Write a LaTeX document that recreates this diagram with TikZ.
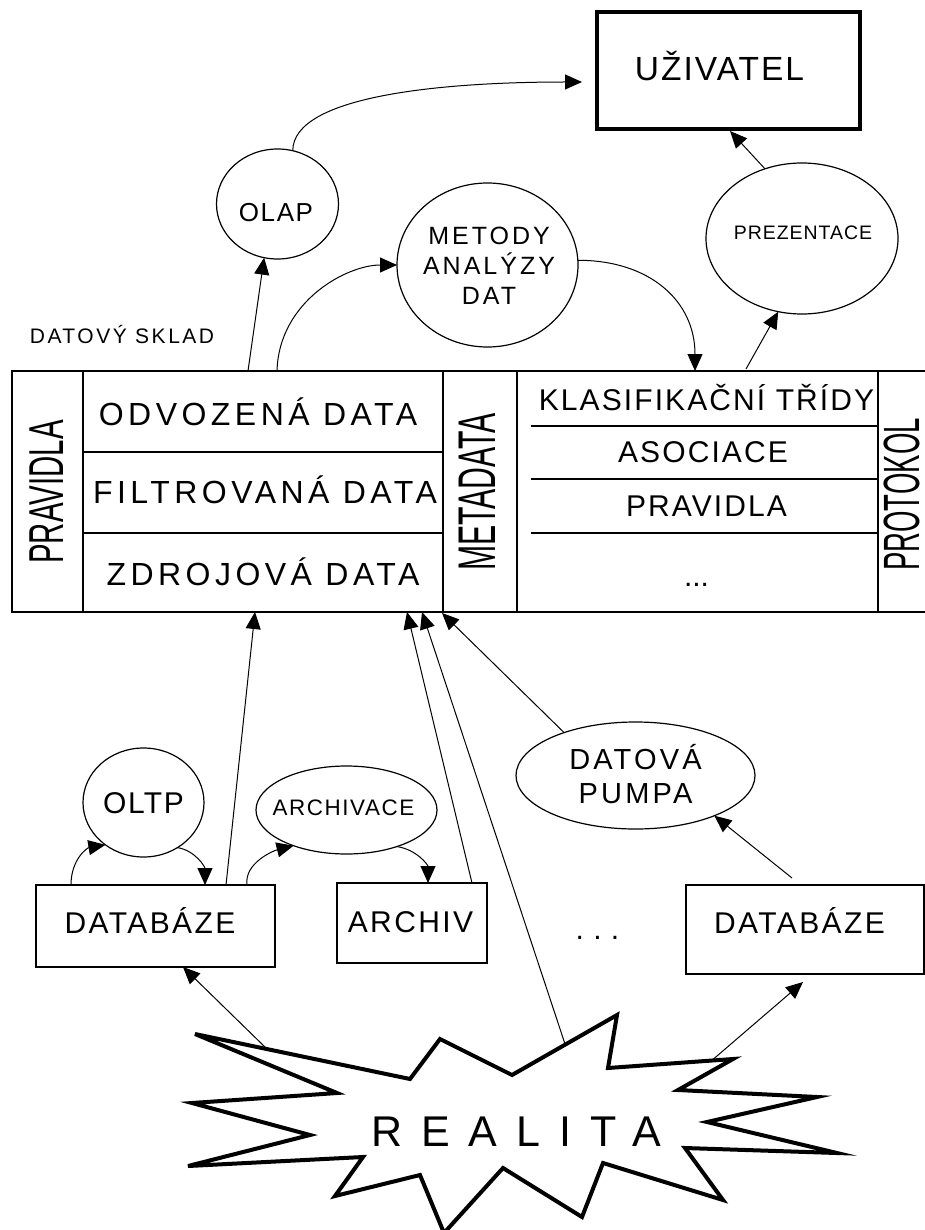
\documentclass[tikz,border=0pt]{standalone}
\usepackage{fontspec}
\setmainfont{Liberation Sans}
\usetikzlibrary{shapes.geometric,arrows.meta}

\newcommand\fsz[2]{\fontsize{#1}{#2}\selectfont}
\newcommand\trk[1]{\addfontfeature{LetterSpace=#1}}

\begin{document}
\begin{tikzpicture}[x=1pt,y=-1pt,
  every node/.style={inner sep=0pt, outer sep=0pt},
  shapebox/.style={draw, rectangle, line width=1.3pt},
  oval/.style={draw, ellipse, line width=1.2pt},
  lbl/.style={anchor=base},
  tbl/.style={line width=1.2pt},
  arr/.style={line width=1pt, -{Triangle[length=17pt,width=15pt]}},
]
\useasboundingbox (0,0) rectangle (925,1230);

% ---------- user and top processes ----------
\node[draw, rectangle, line width=4pt, minimum width=263pt, minimum height=117pt] (uziv) at (728.5,70.5) {};
\node[lbl, font=\fsz{33.5}{40}\trk{6}] (uzivT) at (719.5,81) {UŽIVATEL};

\node[oval, minimum width=122pt, minimum height=110pt] (olap) at (277.5,204) {};
\node[lbl, font=\fsz{26}{30}\trk{6}] (olapT) at (276,222) {OLAP};

\node[oval, minimum width=181pt, minimum height=164pt] (metody) at (487.5,265) {};
\node[lbl, font=\fsz{25}{30}\trk{12}] (metT1) at (489,245) {METODY};
\node[lbl, font=\fsz{25}{30}\trk{12}] (metT2) at (489,275) {ANALÝZY};
\node[lbl, font=\fsz{25}{30}\trk{12}] (metT3) at (489,305) {DAT};

\node[oval, minimum width=192pt, minimum height=151pt] (prez) at (802,238.5) {};
\node[lbl, font=\fsz{19.5}{24}\trk{5}] (prezT) at (803,240) {PREZENTACE};

\node[lbl, font=\fsz{21}{25}\trk{12}] (skladT) at (122,343) {DATOVÝ SKLAD};

% ---------- data warehouse table ----------
\draw[tbl] (925,371) -- (12,371) -- (12,612) -- (925,612);
\draw[tbl] (83,371) -- (83,612);
\draw[tbl] (443,371) -- (443,612);
\draw[tbl] (517,371) -- (517,612);
\draw[tbl] (878,371) -- (878,612);
\draw[tbl] (83,452) -- (443,452);
\draw[tbl] (83,533) -- (443,533);
\draw[tbl] (531,426) -- (878,426);
\draw[tbl] (531,479) -- (878,479);
\draw[tbl] (531,533) -- (878,533);

\node[lbl, rotate=90, font=\fsz{49}{50}] (pravL) at (63,492) {\scalebox{0.6}[1]{PRAVIDLA}};
\node[lbl, rotate=90, font=\fsz{53}{54}] (metaT) at (495,492) {\scalebox{0.57}[1]{METADATA}};
\node[lbl, rotate=90, font=\fsz{51}{54}] (protT) at (919,494.5) {\scalebox{0.54}[1]{PROTOKOL}};

\node[lbl, font=\fsz{32}{38}\trk{14}] (odvT) at (258,425) {ODVOZENÁ DATA};
\node[lbl, font=\fsz{32}{38}\trk{14}] (filT) at (265,503) {FILTROVANÁ DATA};
\node[lbl, font=\fsz{32}{38}\trk{14}] (zdrT) at (263,585) {ZDROJOVÁ DATA};

\node[lbl, font=\fsz{30}{36}\trk{7}] (klasT) at (706.5,410) {KLASIFIKAČNÍ TŘÍDY};
\node[lbl, font=\fsz{30}{36}\trk{7}] (asocT) at (703,462) {ASOCIACE};
\node[lbl, font=\fsz{30}{36}\trk{7}] (prav2T) at (706.5,516) {PRAVIDLA};
\node[lbl, font=\fsz{30}{36}] (etcT) at (696.5,586) {...};

% ---------- sources ----------
\node[oval, minimum width=121pt, minimum height=109pt] (oltp) at (143.5,802.5) {};
\node[lbl, font=\fsz{30}{36}\trk{5}] (oltpT) at (143.5,813) {OLTP};

\node[oval, minimum width=181pt, minimum height=88pt] (archivace) at (346.5,810) {};
\node[lbl, font=\fsz{22.4}{27}\trk{7}] (archivaceT) at (343.5,815) {ARCHIVACE};

\node[oval, minimum width=239pt, minimum height=107pt] (pumpa) at (635.5,775.5) {};
\node[lbl, font=\fsz{29}{34}\trk{11}] (pumpaT1) at (635.5,769) {DATOVÁ};
\node[lbl, font=\fsz{29}{34}\trk{11}] (pumpaT2) at (635.5,803) {PUMPA};

\node[shapebox, minimum width=239pt, minimum height=82pt] (db1) at (155.5,926) {};
\node[lbl, font=\fsz{30}{36}\trk{8}] (db1T) at (150,933) {DATABÁZE};

\node[shapebox, minimum width=150pt, minimum height=80pt] (archiv) at (412,923) {};
\node[lbl, font=\fsz{30}{36}\trk{8}] (archivT) at (410.5,932) {ARCHIV};

\node[shapebox, minimum width=238pt, minimum height=89pt] (db2) at (805,929.5) {};
\node[lbl, font=\fsz{30}{36}\trk{8}] (db2T) at (799.5,933) {DATABÁZE};

\node[lbl, font=\fsz{30}{36}\trk{31}] (dotsT) at (597.5,939) {...};

% ---------- reality ----------
\draw[line width=4pt, line join=miter]
  (195,1034) -- (410,1079) -- (440,1039) -- (512,1075) -- (617,1015)
  -- (608,1068) -- (733,1059) -- (678,1090) -- (817,1097) -- (707,1122)
  -- (837,1153) -- (685,1148) -- (723,1200) -- (603,1163) -- (582,1217)
  -- (503,1168) -- (444,1233) -- (420,1175) -- (335,1196) -- (363,1157)
  -- (188,1166) -- (310,1135) -- (192,1103) -- (337,1093) -- cycle;
\node[lbl, font=\fsz{43}{50}\trk{44}] (realT) at (516,1146) {REALITA};

% ---------- connector end points ----------
\coordinate (whOlap) at (248,371);
\coordinate (whMet) at (277,371);
\coordinate (whMetIn) at (695,371);
\coordinate (whPrez) at (746,369);
\coordinate (uzivIn) at (582,82);
\coordinate (whIn1) at (255,612);
\coordinate (whIn2) at (407,612);
\coordinate (whIn3) at (422,612);
\coordinate (whIn4) at (442,613);
\coordinate (rlWh) at (565,1044);
\coordinate (rlDb2) at (710,1062);
\coordinate (rlDb1) at (267,1049);

% ---------- connectors ----------
\draw[arr] (whOlap) -- (olap.-104);
\draw[arr] (whMet) .. controls +(2,-70) and +(-50,0) .. (metody.west);
\draw[arr] (metody.3) .. controls +(72,0) and +(0,-70) .. (whMetIn);
\draw[arr] (whPrez) -- (prez.-108);
\draw[arr] (prez.118) -- ([xshift=1.5pt,yshift=-2pt]uziv.south);
\draw[arr] (olap.74) .. controls +(0,-55) and +(-140,0) .. (uzivIn);

\draw[arr] ([xshift=70.5pt]db1.north) -- (whIn1);
\draw[arr] ([xshift=60pt]archiv.north) -- (whIn2);
\draw[arr] (rlWh) -- (whIn3);
\draw[arr] (pumpa.149) -- (whIn4);
\draw[arr] ([xshift=-13pt,yshift=7pt]db2.north) -- (pumpa.-27);
\draw[arr] (rlDb2) -- ([xshift=-2pt,yshift=-8pt]db2.south);
\draw[arr] (rlDb1) -- ([xshift=27.5pt]db1.south);

\draw[arr] ([xshift=-84.5pt]db1.north) .. controls +(0,-26) and +(-18,3) .. (oltp.-132);
\draw[arr] (oltp.-53) .. controls +(18,3) and +(0,-18) .. ([xshift=49.5pt]db1.north);
\draw[arr] ([xshift=91.5pt]db1.north) .. controls +(-3,-22) and +(-20,5) .. (archivace.-146);
\draw[arr] (archivace.-36) .. controls +(20,3) and +(0,-18) .. ([xshift=16pt]archiv.north);
\end{tikzpicture}
\end{document}
